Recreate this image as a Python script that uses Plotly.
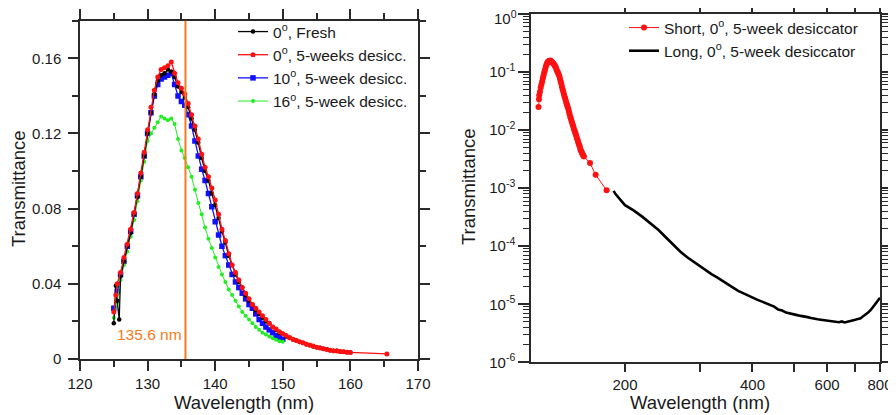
import plotly.graph_objects as go

# ---------------- data ----------------
wl_black = [125.0, 125.3, 125.5, 125.8, 126.0, 126.5, 127.0, 127.5, 128.0, 128.5, 129.0, 129.5,
            130.0, 130.5, 131.0, 131.5, 132.0, 132.5, 133.0, 133.5, 134.0, 134.5, 135.0, 135.5,
            136.0, 136.5, 137.0, 137.5, 138.0, 138.5, 139.0, 139.5, 140.0, 140.5, 141.0, 141.5,
            142.0, 142.5, 143.0, 143.5, 144.0, 144.5, 145.0, 145.5, 146.0, 146.5, 147.0, 147.5,
            148.0, 148.5, 149.0, 149.5, 150.0, 150.5, 151.0, 151.5, 152.0, 152.5, 153.0, 153.5,
            154.0, 154.5, 155.0, 155.5, 156.0, 156.5, 157.0, 157.5, 158.0, 158.5, 159.0, 159.5, 160.0]
t_black = [0.019, 0.039, 0.031, 0.021, 0.044, 0.052, 0.060, 0.067, 0.077, 0.086, 0.097, 0.108,
           0.120, 0.131, 0.141, 0.148, 0.151, 0.152, 0.154, 0.153, 0.150, 0.145, 0.142, 0.139,
           0.134, 0.128, 0.122, 0.115, 0.107, 0.100, 0.095, 0.088, 0.082, 0.075, 0.068, 0.062,
           0.055, 0.050, 0.045, 0.041, 0.038, 0.034, 0.031, 0.029, 0.026, 0.024, 0.022, 0.020,
           0.019, 0.017, 0.0155, 0.014, 0.0135, 0.012, 0.0112, 0.0104, 0.0098, 0.0090, 0.0085, 0.0078,
           0.0074, 0.0066, 0.0062, 0.0060, 0.0054, 0.0052, 0.0047, 0.0043, 0.0044, 0.0039, 0.0038, 0.0036, 0.0034]

wl_red = [125.0, 125.3, 125.5, 126.0, 126.5, 127.0, 127.5, 128.0, 128.5, 129.0, 129.5,
          130.0, 130.5, 131.0, 131.5, 132.0, 132.5, 133.0, 133.5, 134.0, 134.5, 135.0, 135.5,
          136.0, 136.5, 137.0, 137.5, 138.0, 138.5, 139.0, 139.5, 140.0, 140.5, 141.0, 141.5,
          142.0, 142.5, 143.0, 143.5, 144.0, 144.5, 145.0, 145.5, 146.0, 146.5, 147.0, 147.5,
          148.0, 148.5, 149.0, 149.5, 150.0, 150.5, 151.0, 151.5, 152.0, 152.5, 153.0, 153.5,
          154.0, 154.5, 155.0, 155.5, 156.0, 156.5, 157.0, 157.5, 158.0, 158.5, 159.0, 159.5, 160.0, 165.4]
t_red = [0.025, 0.034, 0.040, 0.046, 0.054, 0.061, 0.069, 0.078, 0.088, 0.099, 0.110,
         0.122, 0.134, 0.143, 0.150, 0.154, 0.155, 0.156, 0.158, 0.152, 0.147, 0.144, 0.141,
         0.136, 0.130, 0.124, 0.117, 0.109, 0.102, 0.097, 0.091, 0.0846, 0.077, 0.069, 0.063,
         0.056, 0.050, 0.046, 0.042, 0.038, 0.035, 0.032, 0.029, 0.027, 0.025, 0.023, 0.021,
         0.019, 0.017, 0.016, 0.0145, 0.0135, 0.0125, 0.0115, 0.0105, 0.0098, 0.0092, 0.0086, 0.0079,
         0.0073, 0.0069, 0.0063, 0.0058, 0.0055, 0.0051, 0.0046, 0.0044, 0.0042, 0.0040, 0.0038, 0.0036, 0.0035, 0.0027]

wl_blue = [125.0, 125.5, 126.0, 126.5, 127.0, 127.5, 128.0, 128.5, 129.0, 129.5,
           130.0, 130.5, 131.0, 131.5, 132.0, 132.5, 133.0, 133.5, 134.0, 134.5, 135.0, 135.5,
           136.0, 136.5, 137.0, 137.5, 138.0, 138.5, 139.0, 139.5, 140.0, 140.5, 141.0, 141.5,
           142.0, 142.5, 143.0, 143.5, 144.0, 144.5, 145.0, 145.5, 146.0, 146.5, 147.0, 147.5,
           148.0, 148.5, 149.0, 149.5, 150.0]
t_blue = [0.027, 0.036, 0.045, 0.052, 0.060, 0.068, 0.077, 0.087, 0.097, 0.108,
          0.120, 0.131, 0.140, 0.146, 0.149, 0.150, 0.151, 0.152, 0.146, 0.140, 0.137, 0.135,
          0.130, 0.124, 0.116, 0.108, 0.101, 0.095, 0.088, 0.081, 0.073, 0.066, 0.060, 0.055,
          0.050, 0.045, 0.041, 0.038, 0.035, 0.032, 0.029, 0.027, 0.024, 0.021, 0.019, 0.017,
          0.0155, 0.014, 0.0125, 0.0115, 0.0105]

wl_green = [125.0, 125.5, 126.0, 126.5, 127.0, 127.5, 128.0, 128.5, 129.0, 129.5,
            130.0, 130.5, 131.0, 131.5, 132.0, 132.5, 133.0, 133.5, 134.0, 134.5, 135.0, 135.5,
            136.0, 136.5, 137.0, 137.5, 138.0, 138.5, 139.0, 139.5, 140.0, 140.5, 141.0, 141.5,
            142.0, 142.5, 143.0, 143.5, 144.0, 144.5, 145.0, 145.5, 146.0, 146.5, 147.0, 147.5,
            148.0, 148.5, 149.0, 149.5, 150.0]
t_green = [0.022, 0.030, 0.042, 0.050, 0.057, 0.065, 0.074, 0.084, 0.095, 0.105,
           0.116, 0.120, 0.123, 0.126, 0.129, 0.128, 0.127, 0.128, 0.125, 0.117, 0.111, 0.107,
           0.102, 0.097, 0.090, 0.083, 0.077, 0.070, 0.064, 0.059, 0.054, 0.049, 0.045, 0.041,
           0.037, 0.034, 0.031, 0.028, 0.025, 0.023, 0.021, 0.019, 0.017, 0.0155, 0.014, 0.013,
           0.012, 0.011, 0.0102, 0.0095, 0.0092]

# extra sparse points of the short-wavelength scan shown only in the log plot
wl_short_extra = [170.5, 181.0]
t_short_extra = [0.0017, 0.00092]

wl_long = [188, 190, 200, 210, 220, 230, 240, 250, 260, 270, 280, 290, 300, 310, 320, 330, 340,
           350, 360, 370, 380, 390, 400, 410, 420, 430, 440, 450, 460, 470, 480, 490, 500, 510,
           520, 530, 540, 550, 560, 570, 580, 590, 600, 610, 620, 630, 640, 650, 660, 670, 680,
           690, 700, 710, 720, 730, 740, 750, 760, 770, 780, 790, 800]
t_long = [9.0e-4, 7.9e-4, 5.1e-4, 4.1e-4, 3.2e-4, 2.45e-4, 1.9e-4, 1.41e-4, 1.05e-4, 8.1e-5, 6.5e-5,
          5.4e-5, 4.5e-5, 3.8e-5, 3.3e-5, 2.9e-5, 2.5e-5, 2.24e-5, 1.95e-5, 1.7e-5, 1.55e-5, 1.41e-5,
          1.29e-5, 1.2e-5, 1.12e-5, 1.05e-5, 9.8e-6, 9.1e-6, 8.1e-6, 7.8e-6, 7.2e-6, 6.9e-6, 6.8e-6,
          6.5e-6, 6.3e-6, 6.2e-6, 6.0e-6, 5.8e-6, 5.6e-6, 5.5e-6, 5.4e-6, 5.3e-6, 5.25e-6, 5.2e-6,
          5.1e-6, 5.0e-6, 4.9e-6, 5.05e-6, 4.85e-6, 5.0e-6, 5.1e-6, 5.2e-6, 5.4e-6, 5.6e-6, 5.75e-6,
          6.2e-6, 6.6e-6, 7.2e-6, 7.9e-6, 8.9e-6, 1.0e-5, 1.12e-5, 1.29e-5]

marker_wl = 135.6
marker_label = "135.6 nm"

names_left = ["0<sup>o</sup>, Fresh", "0<sup>o</sup>, 5-weeks desicc.",
              "10<sup>o</sup>, 5-week desicc.", "16<sup>o</sup>, 5-week desicc."]
names_right = ["Short, 0<sup>o</sup>, 5-week desiccator", "Long, 0<sup>o</sup>, 5-week desiccator"]

log_tick_vals = [1e-6, 1e-5, 1e-4, 1e-3, 1e-2, 1e-1, 1]
# the top label (10^0) is drawn as a separate text so that its superscript is not clipped
log_tick_text = ["10<sup>-6</sup>", "10<sup>-5</sup>", "10<sup>-4</sup>", "10<sup>-3</sup>",
                 "10<sup>-2</sup>", "10<sup>-1</sup>", ""]
top_log_label = "10<sup>0</sup>"
x2_tick_vals = [200, 300, 400, 500, 600, 700, 800]
x2_tick_text = ["200", "", "400", "", "600", "", "800"]

# ---------------- layout helpers ----------------
# the page body adds an 8 px margin, so the figure is 8 px smaller and positions are shifted
OFF = 8
W, H = 896 - OFF, 415 - OFF


def px(x):
    return (x - OFF) / W


def py(y):
    return 1 - (y - OFF) / H


FONT = "Liberation Sans, Arial, sans-serif"
TXT = "#1a1a1a"
AX = "#2a2a2a"
ORANGE = "#F47B20"

fig = go.Figure()

fig.add_trace(go.Scatter(x=wl_blue, y=t_blue, name=names_left[2], mode="lines+markers",
                         line=dict(color="#1010FF", width=1.3),
                         marker=dict(symbol="square", size=5.5, color="#1010FF"),
                         legendrank=3, xaxis="x", yaxis="y", legend="legend"))
fig.add_trace(go.Scatter(x=wl_green, y=t_green, name=names_left[3], mode="lines+markers",
                         line=dict(color="#22EE22", width=1),
                         marker=dict(symbol="circle", size=4, color="#22EE22"),
                         legendrank=4, xaxis="x", yaxis="y", legend="legend"))
fig.add_trace(go.Scatter(x=wl_black, y=t_black, name=names_left[0], mode="lines+markers",
                         line=dict(color="#000000", width=1.3),
                         marker=dict(symbol="circle", size=4.5, color="#000000"),
                         legendrank=1, xaxis="x", yaxis="y", legend="legend"))
fig.add_trace(go.Scatter(x=wl_red, y=t_red, name=names_left[1], mode="lines+markers",
                         line=dict(color="#FF1010", width=1.3),
                         marker=dict(symbol="circle", size=5, color="#FF1010"),
                         legendrank=2, xaxis="x", yaxis="y", legend="legend"))

fig.add_trace(go.Scatter(x=wl_red + wl_short_extra, y=t_red + t_short_extra, name=names_right[0],
                         mode="lines+markers", line=dict(color="#FF1010", width=1),
                         marker=dict(symbol="circle", size=6, color="#FF1010"),
                         xaxis="x2", yaxis="y2", legend="legend2"))
fig.add_trace(go.Scatter(x=wl_long, y=t_long, name=names_right[1], mode="lines",
                         line=dict(color="#000000", width=2.6),
                         xaxis="x2", yaxis="y2", legend="legend2"))

# vertical marker line in the left panel
fig.add_shape(type="line", xref="x", yref="y domain", x0=marker_wl, x1=marker_wl, y0=0, y1=1,
              line=dict(color=ORANGE, width=2))
fig.add_annotation(xref="x", yref="y", x=marker_wl, y=0.013, text=marker_label, showarrow=False,
                   xanchor="right", yanchor="middle", xshift=-1,
                   font=dict(family=FONT, size=15.5, color=ORANGE))

axis_common = dict(showline=True, linecolor=AX, linewidth=1.5, mirror="allticks",
                   ticks="outside", tickcolor=AX, tickwidth=1.5, showgrid=False, zeroline=False,
                   automargin=False, ticklabeloverflow="allow",
                   tickfont=dict(family=FONT, size=15, color=TXT))

fig.update_layout(
    template="none",
    width=W, height=H,
    margin=dict(l=0, r=0, t=0, b=0, pad=0, autoexpand=False),
    paper_bgcolor="white", plot_bgcolor="white",
    font=dict(family=FONT, size=15, color=TXT),
    xaxis=dict(domain=[px(80), px(418)], range=[120, 170], dtick=10, tick0=120, ticklen=10,
               minor=dict(dtick=5, ticks="outside", ticklen=6, tickcolor=AX, tickwidth=1.5),
               anchor="y", **axis_common),
    yaxis=dict(domain=[py(359), py(20.7)], range=[0, 0.18], dtick=0.04, tick0=0, ticklen=10,
               minor=dict(dtick=0.02, ticks="outside", ticklen=6, tickcolor=AX, tickwidth=1.5),
               ticklabelstandoff=4, anchor="x", **axis_common),
    xaxis2=dict(domain=[px(531), px(880)], type="log", range=[2.0792, 2.9031],
                tickmode="array", tickvals=x2_tick_vals, ticktext=x2_tick_text, ticklen=8,
                anchor="y2", **axis_common),
    yaxis2=dict(domain=[py(362.3), py(14)], type="log", range=[-6, 0],
                tickmode="array", tickvals=log_tick_vals, ticktext=log_tick_text, ticklen=11,
                minor=dict(tickmode="array",
                           tickvals=[m * 10.0 ** e for e in range(-6, 0) for m in range(2, 10)],
                           ticks="outside", ticklen=6, tickcolor=AX, tickwidth=1),
                anchor="x2", **axis_common),
    legend=dict(x=px(233), y=py(15), xanchor="left", yanchor="top", bgcolor="rgba(0,0,0,0)",
                font=dict(family=FONT, size=15.5, color=TXT), tracegroupgap=0, itemwidth=30),
    legend2=dict(x=px(624), y=py(11), xanchor="left", yanchor="top", bgcolor="rgba(0,0,0,0)",
                 font=dict(family=FONT, size=15.5, color=TXT), tracegroupgap=0, itemwidth=30),
    showlegend=True,
)

# top label of the log axis
fig.add_annotation(xref="paper", yref="paper", x=px(519), y=py(17.5), text=top_log_label,
                   showarrow=False, xanchor="right", yanchor="middle",
                   font=dict(family=FONT, size=15, color=TXT))

# axis titles
fig.add_annotation(xref="paper", yref="paper", x=px(244), y=py(402), text="Wavelength (nm)",
                   showarrow=False, xanchor="center", yanchor="middle",
                   font=dict(family=FONT, size=18.5, color=TXT))
fig.add_annotation(xref="paper", yref="paper", x=px(700), y=py(402), text="Wavelength (nm)",
                   showarrow=False, xanchor="center", yanchor="middle",
                   font=dict(family=FONT, size=18.5, color=TXT))
fig.add_annotation(xref="paper", yref="paper", x=px(19), y=py(189), text="Transmittance",
                   showarrow=False, textangle=-90, xanchor="center", yanchor="middle",
                   font=dict(family=FONT, size=18.5, color=TXT))
fig.add_annotation(xref="paper", yref="paper", x=px(468), y=py(187), text="Transmittance",
                   showarrow=False, textangle=-90, xanchor="center", yanchor="middle",
                   font=dict(family=FONT, size=18.5, color=TXT))

fig.write_html("out.html")
